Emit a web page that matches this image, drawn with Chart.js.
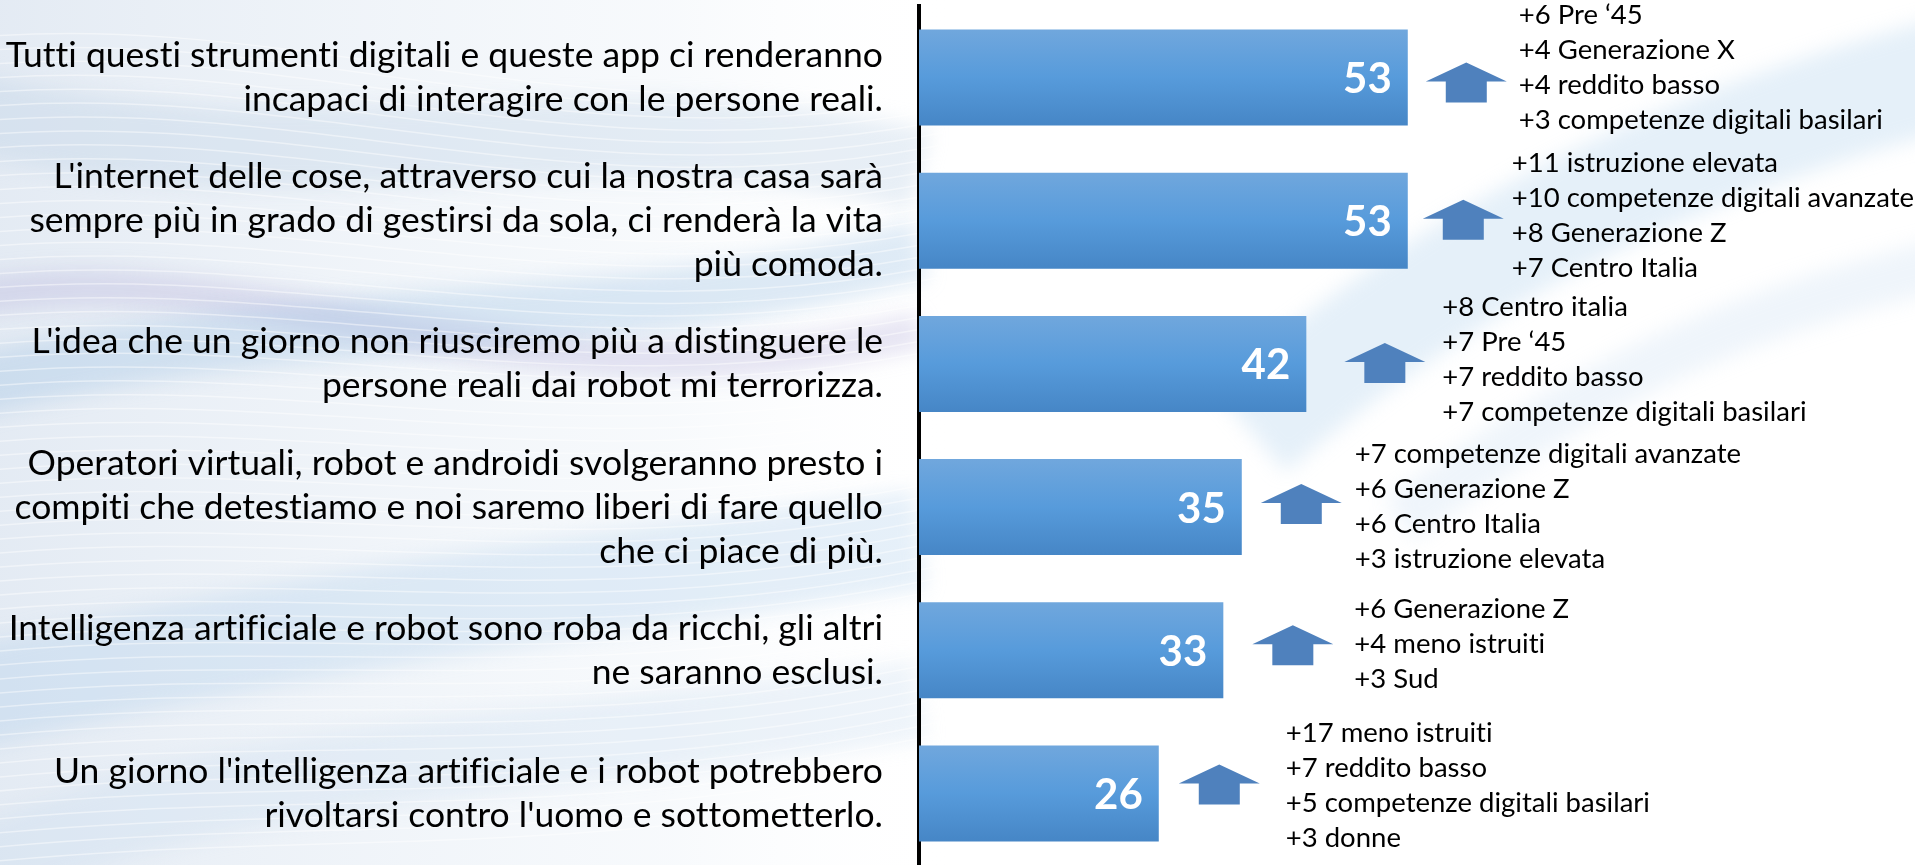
<!DOCTYPE html>
<html>
<head>
<meta charset="utf-8">
<script src="https://cdn.jsdelivr.net/npm/chart.js@4.4.1/dist/chart.umd.min.js"></script>
<style>
  html, body { margin: 0; padding: 0; background: #fff; }
  #wrap { width: 1915px; height: 865px; position: relative; }
</style>
</head>
<body>
<div id="wrap"><canvas id="bar-chart"></canvas></div>
<script>
/* data */
const statements = [
  ["Tutti questi strumenti digitali e queste app ci renderanno", "incapaci di interagire con le persone reali."],
  ["L'internet delle cose, attraverso cui la nostra casa sarà", "sempre più in grado di gestirsi da sola, ci renderà la vita", "più comoda."],
  ["L'idea che un giorno non riusciremo più a distinguere le", "persone reali dai robot mi terrorizza."],
  ["Operatori virtuali, robot e androidi svolgeranno presto i", "compiti che detestiamo e noi saremo liberi di fare quello", "che ci piace di più."],
  ["Intelligenza artificiale e robot sono roba da ricchi, gli altri", "ne saranno esclusi."],
  ["Un giorno l'intelligenza artificiale e i robot potrebbero", "rivoltarsi contro l'uomo e sottometterlo."]
];
const agreePct = [53, 53, 42, 35, 33, 26];
const segmentGains = [
  ["+6 Pre \u201845", "+4 Generazione X", "+4 reddito basso", "+3 competenze digitali basilari"],
  ["+11 istruzione elevata", "+10 competenze digitali avanzate", "+8 Generazione Z", "+7 Centro Italia"],
  ["+8 Centro italia", "+7 Pre \u201845", "+7 reddito basso", "+7 competenze digitali basilari"],
  ["+7 competenze digitali avanzate", "+6 Generazione Z", "+6 Centro Italia", "+3 istruzione elevata"],
  ["+6 Generazione Z", "+4 meno istruiti", "+3 Sud"],
  ["+17 meno istruiti", "+7 reddito basso", "+5 competenze digitali basilari", "+3 donne"]
];

/* hand placement of the arrows / notes next to each bar (px) */
const arrowGap = [18, 15, 38, 19, 29, 20];
const arrowLift = [6, 0, 0, -2, -4, -8];
const noteGap = [111, 104, 136, 113, 131, 127];
const noteLift = [-10, -5, -4, 0, -6, -8];

const BAR_PCT = 0.67;

/* vertical gradient for every bar */
function barFill(c) {
  const chart = c.chart;
  const y = chart.scales && chart.scales.y;
  if (!chart.chartArea || !y || c.dataIndex === undefined) return '#5a9bdb';
  const mid = y.getPixelForValue(c.dataIndex);
  const half = y.height / statements.length * BAR_PCT / 2;
  const g = chart.ctx.createLinearGradient(0, mid - half, 0, mid + half);
  g.addColorStop(0, '#70a7dd');
  g.addColorStop(0.5, '#579bdb');
  g.addColorStop(1, '#4686c6');
  return g;
}

/* pale blue swooshes behind the chart */
const swoosh = {
  id: 'swoosh',
  beforeDraw(chart) {
    const { ctx, width, height } = chart;
    ctx.textRendering = 'optimizeSpeed';
    ctx.save();
    ctx.fillStyle = '#ffffff';
    ctx.fillRect(0, 0, width, height);
    const wash = ctx.createLinearGradient(0, 0, 960, 0);
    wash.addColorStop(0, 'rgba(205,218,234,0.55)');
    wash.addColorStop(0.7, 'rgba(230,238,246,0.3)');
    wash.addColorStop(1, 'rgba(255,255,255,0)');
    ctx.fillStyle = wash;
    ctx.fillRect(0, 0, 960, height);
    ctx.lineCap = 'butt';
    ctx.filter = 'blur(10px)';
    const bands = [
      [-40, 110, 300, 200, 600, 90, 920, 170, 80, 'rgba(190,208,228,0.35)'],
      [-40, 300, 250, 240, 520, 430, 920, 330, 36, 'rgba(175,170,215,0.3)'],
      [-40, 390, 300, 300, 600, 340, 920, 250, 60, 'rgba(150,190,225,0.3)'],
      [-40, 700, 220, 640, 450, 600, 920, 540, 100, 'rgba(165,200,232,0.28)'],
      [-40, 880, 200, 760, 500, 760, 920, 700, 80, 'rgba(200,220,240,0.3)'],
      [1250, 430, 1450, 260, 1650, 150, 1960, 70, 110, 'rgba(170,205,235,0.3)'],
      [1400, 520, 1600, 370, 1750, 310, 1960, 260, 50, 'rgba(180,210,236,0.22)']
    ];
    bands.forEach(b => {
      ctx.beginPath();
      ctx.moveTo(b[0], b[1]);
      ctx.bezierCurveTo(b[2], b[3], b[4], b[5], b[6], b[7]);
      ctx.lineWidth = b[8];
      ctx.strokeStyle = b[9];
      ctx.stroke();
    });
    ctx.filter = 'none';
    // fine white streaks
    ctx.strokeStyle = 'rgba(255,255,255,0.45)';
    ctx.lineWidth = 1.5;
    for (let k = 0; k < 60; k++) {
      ctx.beginPath();
      ctx.moveTo(-50, 40 + k * 14);
      ctx.bezierCurveTo(300, 0 + k * 14, 600, 160 + k * 12, 1000, 60 + k * 12);
      ctx.stroke();
    }
    ctx.restore();
  }
};

/* value labels, arrows and segment notes */
const notes = {
  id: 'notes',
  afterDatasetsDraw(chart) {
    const { ctx } = chart;
    const meta = chart.getDatasetMeta(0);
    ctx.save();
    meta.data.forEach((bar, i) => {
      const x = bar.x, y = bar.y;
      // value
      ctx.fillStyle = '#ffffff';
      ctx.font = 'bold 42px Lato';
      ctx.textAlign = 'right';
      ctx.textBaseline = 'middle';
      ctx.fillText(String(agreePct[i]), x - 16, y + 2);
      // arrow
      const ax = x + arrowGap[i], aw = 81, ay = y + arrowLift[i];
      ctx.fillStyle = '#4f81bd';
      ctx.beginPath();
      ctx.moveTo(ax + aw / 2, ay - 21);
      ctx.lineTo(ax + aw, ay - 2);
      ctx.lineTo(ax + aw - 20, ay - 2);
      ctx.lineTo(ax + aw - 20, ay + 19);
      ctx.lineTo(ax + 20, ay + 19);
      ctx.lineTo(ax + 20, ay - 2);
      ctx.lineTo(ax, ay - 2);
      ctx.closePath();
      ctx.fill();
      // notes
      const lines = segmentGains[i];
      ctx.fillStyle = '#000000';
      ctx.font = '27.5px Lato';
      ctx.textAlign = 'left';
      lines.forEach((t, j) => {
        ctx.fillText(t, x + noteGap[i], y + noteLift[i] + (j - (lines.length - 1) / 2) * 35);
      });
    });
    ctx.restore();
  }
};

new Chart(document.getElementById('bar-chart'), {
  type: 'bar',
  data: {
    labels: statements,
    datasets: [{
      data: agreePct,
      backgroundColor: barFill,
      borderWidth: 0,
      barPercentage: BAR_PCT,
      categoryPercentage: 1
    }]
  },
  options: {
    indexAxis: 'y',
    responsive: true,
    maintainAspectRatio: false,
    animation: false,
    layout: { padding: { top: 6, right: 0, bottom: 0, left: 0 } },
    plugins: {
      legend: { display: false },
      tooltip: { enabled: false }
    },
    scales: {
      x: { display: false, min: 0, max: 108 },
      y: {
        z: 1,
        afterFit(scale) {
          scale.width = 919;
          scale.paddingTop = 0;
          scale.paddingBottom = 0;
        },
        grid: { display: false, drawTicks: false },
        border: { display: true, color: '#000000', width: 4 },
        ticks: {
          color: '#000000',
          padding: 36,
          font: { family: 'Lato', size: 35.5, lineHeight: 1.24 }
        }
      }
    }
  },
  plugins: [swoosh, notes]
});
</script>
</body>
</html>
